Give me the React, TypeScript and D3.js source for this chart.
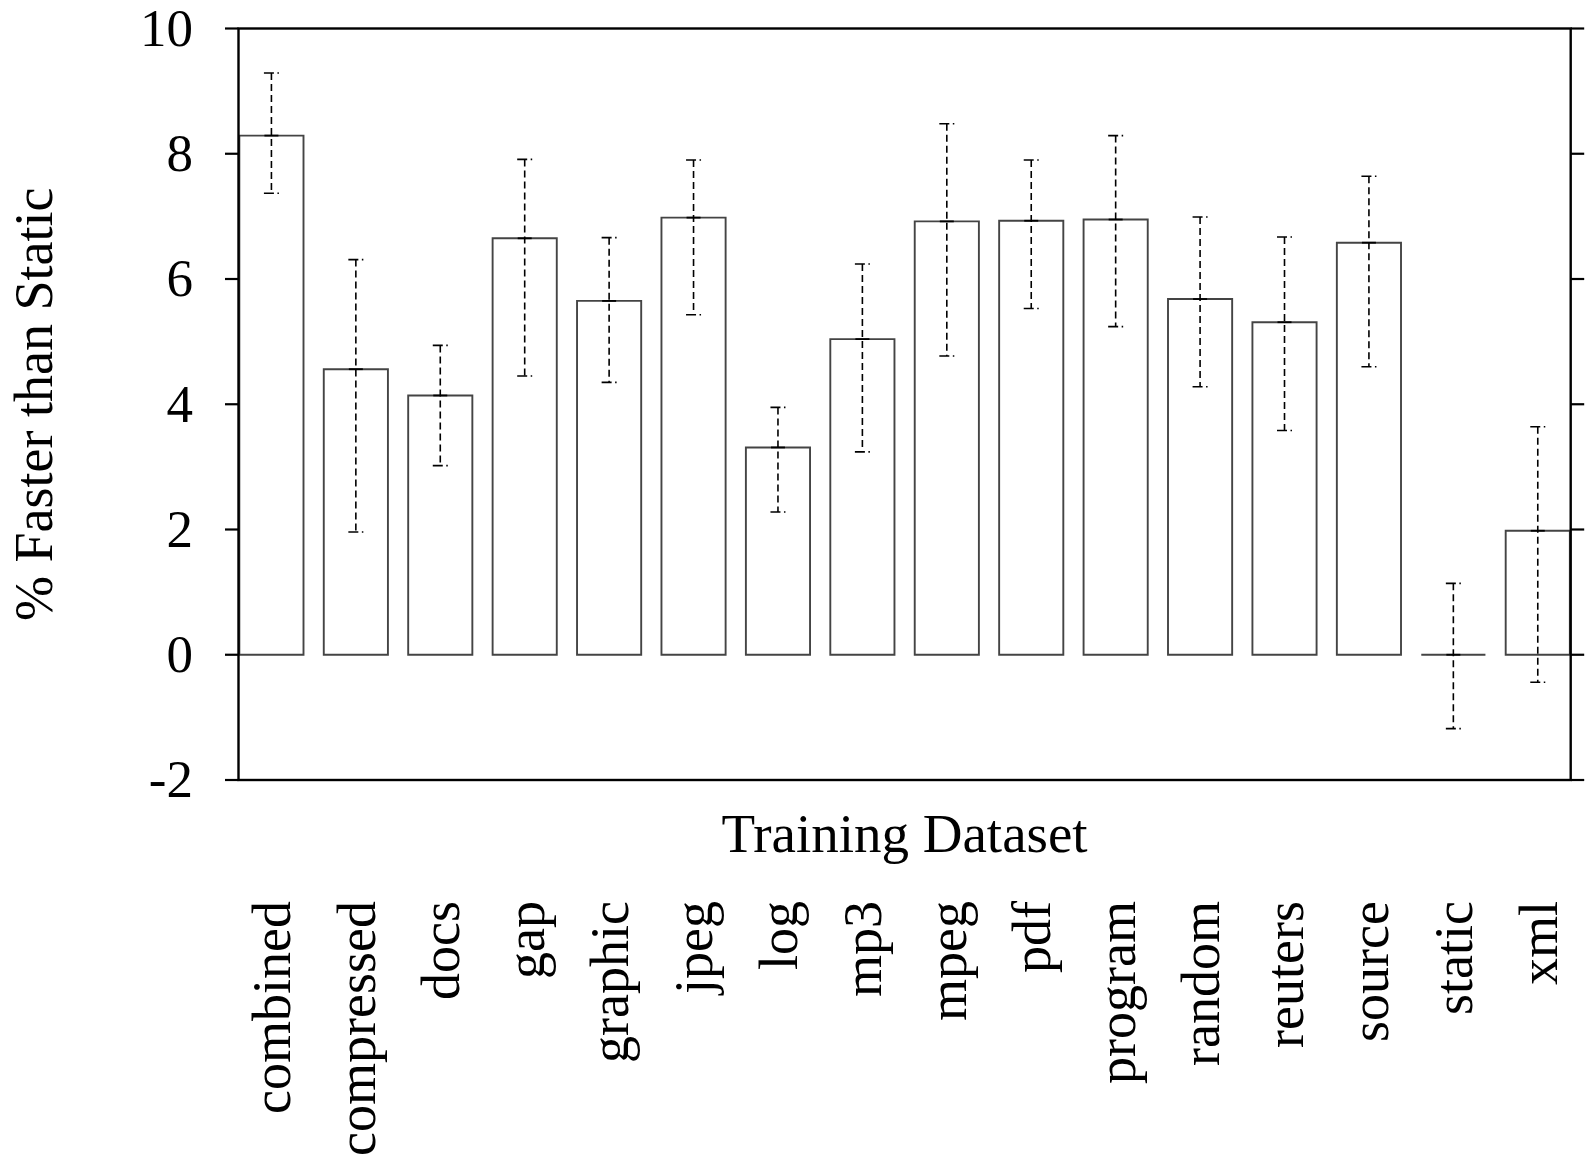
import * as d3 from "d3";

// values
const categories = [
  "combined", "compressed", "docs", "gap", "graphic", "jpeg", "log", "mp3",
  "mpeg", "pdf", "program", "random", "reuters", "source", "static", "xml",
];
const values = [8.29, 4.56, 4.14, 6.65, 5.65, 6.98, 3.31, 5.04, 6.92, 6.93, 6.95, 5.68, 5.31, 6.58, 0, 1.98];
const upper = [9.29, 6.31, 4.94, 7.91, 6.66, 7.9, 3.95, 6.24, 8.48, 7.9, 8.29, 6.99, 6.67, 7.64, 1.14, 3.64];
const lower = [7.37, 1.96, 3.02, 4.45, 4.35, 5.43, 2.28, 3.24, 4.77, 5.53, 5.24, 4.28, 3.58, 4.6, -1.18, -0.44];
const yTicks = [-2, 0, 2, 4, 6, 8, 10];

const WIDTH = 1589;
const HEIGHT = 1158;
const LEFT = 238.5;
const RIGHT = 1570.7;
const TOP = 28.5;
const BOTTOM = 780;
const FONT = "'Liberation Serif', 'Times New Roman', serif";

export default function App() {
  const x = d3
    .scaleBand()
    .domain(categories)
    .range([LEFT, RIGHT])
    .paddingInner(0.24)
    .paddingOuter(0.01);

  const y = d3.scaleLinear().domain([-2, 10]).range([BOTTOM, TOP]);

  const bw = x.bandwidth();

  const bars = categories.map((c, i) => {
    const x0 = x(c)!;
    const x1 = x0 + bw;
    const p = d3.path();
    p.moveTo(x0, y(0));
    p.lineTo(x0, y(values[i]));
    p.lineTo(x1, y(values[i]));
    p.lineTo(x1, y(0));
    p.closePath();
    return <path key={c} d={p.toString()} fill="none" stroke="#444" strokeWidth={1.9} />;
  });

  const errors = categories.map((c, i) => {
    const cx = x(c)! + bw / 2;
    return (
      <g key={c} stroke="#000" fill="none">
        <line x1={cx} x2={cx} y1={y(upper[i])} y2={y(lower[i])} strokeWidth={1.6} strokeDasharray="7,4" />
        <line x1={cx - 7.5} x2={cx + 7.5} y1={y(upper[i])} y2={y(upper[i])} strokeWidth={1.6} strokeDasharray="10,3.5,1.5" />
        <line x1={cx - 7.5} x2={cx + 7.5} y1={y(lower[i])} y2={y(lower[i])} strokeWidth={1.6} strokeDasharray="10,3.5,1.5" />
        <line x1={cx - 7} x2={cx + 7} y1={y(values[i])} y2={y(values[i])} strokeWidth={1.8} />
      </g>
    );
  });

  const ticks = yTicks.map((t) => (
    <g key={t}>
      <line x1={LEFT - 13.5} x2={LEFT} y1={y(t)} y2={y(t)} stroke="#000" strokeWidth={2.2} />
      <line x1={RIGHT} x2={RIGHT + 13.5} y1={y(t)} y2={y(t)} stroke="#000" strokeWidth={2.2} />
      <text x={193} y={y(t)} dy="0.33em" textAnchor="end" fontSize={53}>
        {t}
      </text>
    </g>
  ));

  const labels = categories.map((c) => {
    const cx = x(c)! + bw / 2;
    return (
      <text key={c} transform={`translate(${cx},901) rotate(-90)`} dy="0.35em" textAnchor="end" fontSize={54}>
        {c}
      </text>
    );
  });

  return (
    <svg
      width={WIDTH}
      height={HEIGHT}
      style={{ position: "absolute", left: 0, top: 0, display: "block", background: "#fff" }}
      fontFamily={FONT}
      fill="#000"
    >
      <rect width={WIDTH} height={HEIGHT} fill="#fff" />
      {bars}
      {errors}
      <rect
        x={LEFT}
        y={TOP}
        width={RIGHT - LEFT}
        height={BOTTOM - TOP}
        fill="none"
        stroke="#000"
        strokeWidth={2.4}
      />
      {ticks}
      {labels}
      <text x={(LEFT + RIGHT) / 2} y={852} textAnchor="middle" fontSize={55}>
        Training Dataset
      </text>
      <text
        transform={`translate(52,${(TOP + BOTTOM) / 2}) rotate(-90)`}
        textAnchor="middle"
        fontSize={54}
      >
        % Faster than Static
      </text>
    </svg>
  );
}
